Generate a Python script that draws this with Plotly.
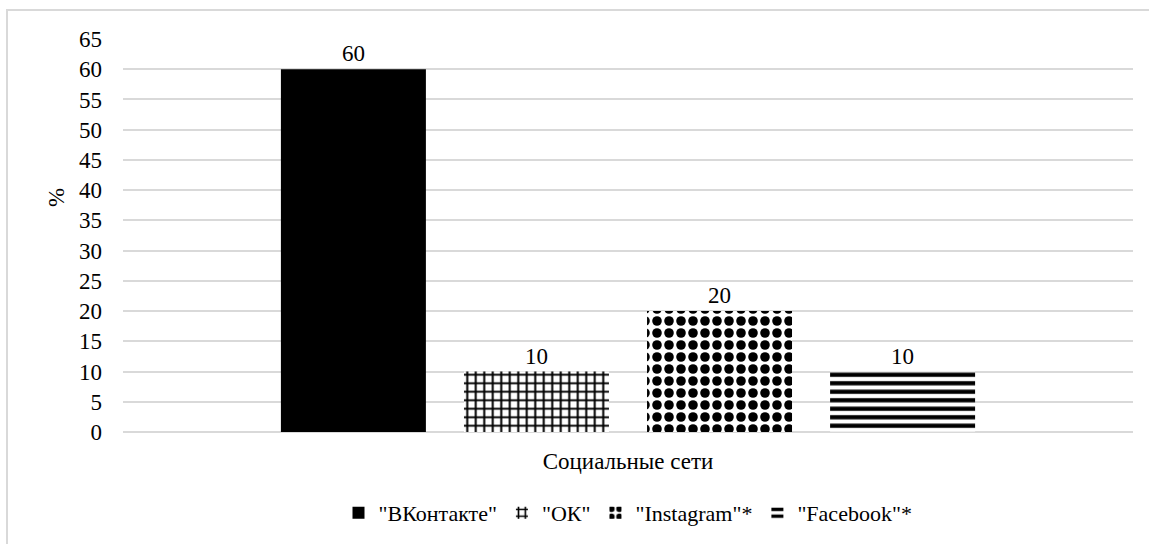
import plotly.graph_objects as go

category = ["Социальные сети"]
series_names = ['"ВКонтакте"', '"ОК"', '"Instagram"*', '"Facebook"*']
series_values = [60, 10, 20, 10]
y_ticks = list(range(0, 70, 5))
y_title = "%"
x_title = "Социальные сети"

patterns = [
    dict(shape=""),
    dict(shape="+", fgcolor="black", bgcolor="white", size=8.5, solidity=0.42, fillmode="replace"),
    dict(shape=".", fgcolor="black", bgcolor="white", size=12, solidity=0.5, fillmode="replace"),
    dict(shape="-", fgcolor="black", bgcolor="white", size=8.5, solidity=0.5, fillmode="replace"),
]

FONT = "Liberation Serif"
FS = 23

fig = go.Figure()
for name, val, pat in zip(series_names, series_values, patterns):
    fig.add_trace(go.Bar(
        x=category, y=[val], name=name,
        marker=dict(color="black", pattern=pat, line=dict(width=0)),
        text=[str(val)], textposition="outside", cliponaxis=False,
        textfont=dict(family=FONT, size=FS, color="black"),
    ))

W, H = 1149, 544
L, R, T, B = 123, 16, 39, 112
pw = W - L - R
ph = H - T - B

fig.update_layout(
    width=W, height=H,
    margin=dict(l=L, r=R, t=T, b=B, autoexpand=False),
    paper_bgcolor="white", plot_bgcolor="white",
    barmode="group", bargap=0.275, bargroupgap=0.208,
    font=dict(family=FONT, size=FS, color="black"),
    showlegend=True,
    legend=dict(orientation="h", x=0.5, xanchor="center",
                y=(ph - (513 - T)) / ph, yanchor="middle",
                font=dict(family=FONT, size=22, color="black"),
                itemsizing="constant", traceorder="normal", itemwidth=30),
    xaxis=dict(showticklabels=False, showgrid=False, zeroline=False,
               showline=False, ticks="",
               title=dict(text=x_title, standoff=20,
                          font=dict(family=FONT, size=FS, color="black"))),
    yaxis=dict(range=[0, 65], tickvals=y_ticks, showgrid=True,
               gridcolor="#d9d9d9", gridwidth=1.5, zeroline=True,
               zerolinecolor="#d9d9d9", zerolinewidth=1.5,
               showline=False, ticks="", ticklabelstandoff=20,
               tickfont=dict(family=FONT, size=FS, color="black")),
    annotations=[dict(text=y_title, textangle=-90, showarrow=False,
                      xref="paper", yref="paper",
                      x=(56 - L) / pw, y=(ph - (198 - T)) / ph,
                      xanchor="center", yanchor="middle",
                      font=dict(family=FONT, size=FS, color="black"))],
    shapes=[dict(type="rect", xref="paper", yref="paper",
                 x0=(7 - L) / pw, x1=(W + 10 - L) / pw,
                 y0=-(H + 10 - T - ph) / ph, y1=(ph + T - 10) / ph,
                 line=dict(color="#d9d9d9", width=2), fillcolor="rgba(0,0,0,0)",
                 layer="below")],
)

fig.write_html("out.html")
